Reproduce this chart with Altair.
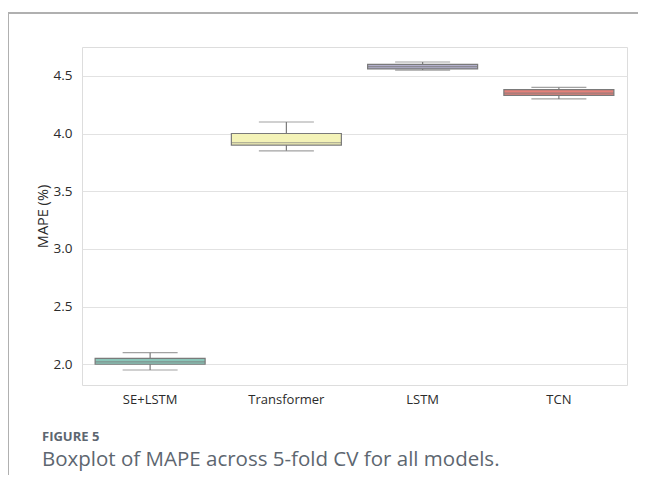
import altair as alt
import pandas as pd

models = ["SE+LSTM", "Transformer", "LSTM", "TCN"]
fold_mape = {
    "SE+LSTM": [1.95, 2.00, 2.02, 2.05, 2.10],
    "Transformer": [3.85, 3.90, 3.92, 4.00, 4.10],
    "LSTM": [4.55, 4.56, 4.58, 4.60, 4.62],
    "TCN": [4.30, 4.33, 4.35, 4.38, 4.40],
}
colors = ["#8ac6b9", "#f4f3b8", "#b3b0cc", "#e5817a"]
y_ticks = [2.0, 2.5, 3.0, 3.5, 4.0, 4.5]
fig_label = "FIGURE 5"
caption = "Boxplot of MAPE across 5-fold CV for all models."

rows = [{"model": m, "mape": v} for m in models for v in fold_mape[m]]
df = pd.DataFrame(rows)

W, H = 545, 338
edge = "#7a7a7a"
txt = "#2b2b2b"

xenc = alt.X("model:N", sort=models,
             scale=alt.Scale(domain=models, paddingInner=0, paddingOuter=0),
             axis=alt.Axis(title=None, labelAngle=0, labelFontSize=13, labelColor=txt,
                           labelFont="Open Sans", labelPadding=8, ticks=False, domain=False,
                           grid=False))
yscale = alt.Scale(domain=[1.82, 4.75], nice=False, zero=False)
yaxis = alt.Axis(title="MAPE (%)", values=y_ticks, format=".1f", labelFontSize=13.5,
                 labelColor=txt, labelFont="Open Sans", labelPadding=10, ticks=False,
                 domain=False, grid=True, gridColor="#e2e2e2", gridWidth=1.2,
                 titleFont="Open Sans", titleFontSize=14.5, titleFontWeight="normal",
                 titleColor=txt, titlePadding=3)

base = alt.Chart(df).transform_aggregate(
    lo="min(mape)", q1="q1(mape)", med="median(mape)", q3="q3(mape)", hi="max(mape)",
    groupby=["model"])

whisker = base.mark_rule(color=edge, strokeWidth=1.2).encode(
    x=xenc, y=alt.Y("lo:Q", scale=yscale, axis=yaxis), y2="hi:Q")
caps_lo = base.mark_tick(color=edge, size=55, thickness=1.2).encode(
    x=xenc, y=alt.Y("lo:Q", scale=yscale, axis=yaxis))
caps_hi = base.mark_tick(color=edge, size=55, thickness=1.2).encode(
    x=xenc, y=alt.Y("hi:Q", scale=yscale, axis=yaxis))
box = base.mark_bar(size=110, stroke=edge, strokeWidth=1.2).encode(
    x=xenc, y=alt.Y("q1:Q", scale=yscale, axis=yaxis), y2="q3:Q",
    color=alt.Color("model:N", scale=alt.Scale(domain=models, range=colors), legend=None))
median = base.mark_tick(color=edge, size=110, thickness=1.2).encode(
    x=xenc, y=alt.Y("med:Q", scale=yscale, axis=yaxis))

frame_top = alt.Chart(df).mark_rule(color="#b0b0b0", strokeWidth=1.5).encode(
    x=alt.value(-74), x2=alt.value(W + 20), y=alt.value(-34))
frame_left = alt.Chart(df).mark_rule(color="#b0b0b0", strokeWidth=1).encode(
    x=alt.value(-73.5), y=alt.value(-34), y2=alt.value(H + 110))

fig_text = alt.Chart(pd.DataFrame({"t": [fig_label]})).mark_text(
    align="left", baseline="middle", font="Open Sans", fontSize=13, fontWeight="bold",
    color="#5d6670").encode(x=alt.value(-40), y=alt.value(390), text="t:N")
cap_text = alt.Chart(pd.DataFrame({"t": [caption]})).mark_text(
    align="left", baseline="middle", font="Open Sans", fontSize=20.5,
    color="#5d6670").encode(x=alt.value(-40), y=alt.value(413), text="t:N")

chart = alt.layer(whisker, caps_lo, caps_hi, box, median, frame_top, frame_left,
                  fig_text, cap_text).properties(
    width=W, height=H,
    autosize=alt.AutoSizeParams(type="none"),
    padding={"left": 74, "top": 39, "right": 11, "bottom": 90},
).configure_view(stroke="#d4d4d4", strokeWidth=1.5).configure(background="white")

chart.save("out.html", embed_options={"renderer": "svg", "actions": False})
